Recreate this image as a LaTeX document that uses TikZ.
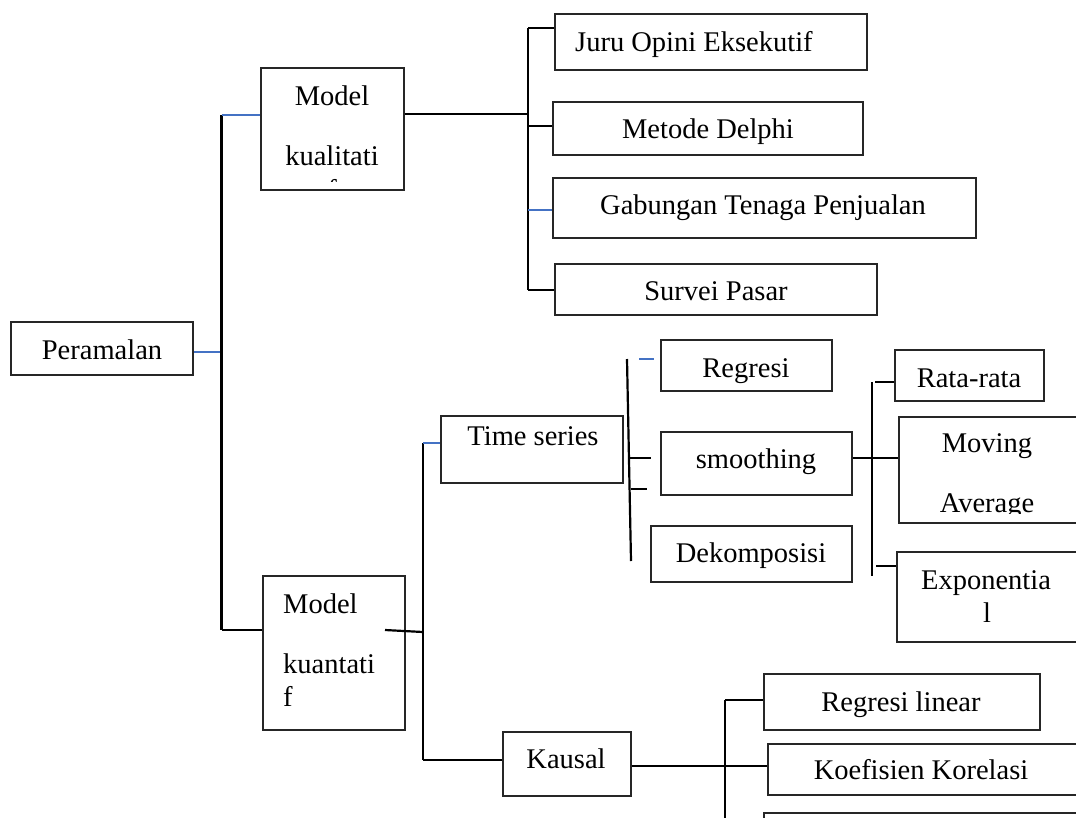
\documentclass[tikz,border=0pt]{standalone}
\usepackage{fontspec}
\setmainfont{Liberation Serif}
\usetikzlibrary{fit}
\definecolor{linkblue}{HTML}{4472C4}
\begin{document}
\begin{tikzpicture}[x=1pt,y=-1pt,
  box/.style={draw=black!85, line width=1.5pt, inner sep=0pt},
  txt/.style={anchor=base, inner sep=0pt, font=\fontsize{28.5}{34}\selectfont},
  ltxt/.style={anchor=base west, inner sep=0pt, font=\fontsize{28.5}{34}\selectfont},
  conn/.style={line width=2.2pt, black},
  bconn/.style={line width=2.2pt, linkblue}]
\useasboundingbox (0,0) rectangle (1076,817);
\clip (0,0) rectangle (1076,817);
% ---- boxes
\node[box, fit={(11,322) (193,375)}] (per) {};
\node[txt] (perT) at (102,359) {Peramalan};
\node[box, fit={(261,68) (404,190)}] (mkl) {};
\node[txt] (mklA) at (332,105) {Model};
\node[txt] (mklB) at (332,165) {kualitati};
\begin{scope}
  \clip (261,68) rectangle (404,181);
  \node[txt] (mklC) at (332,199) {f};
\end{scope}
\node[box, fit={(555,14) (867,70)}] (juru) {};
\node[ltxt] (juruT) at (575,51) {Juru Opini Eksekutif};
\node[box, fit={(553,102) (863,155)}] (del) {};
\node[txt] (delT) at (708,138) {Metode Delphi};
\node[box, fit={(553,178) (976,238)}] (gab) {};
\node[txt] (gabT) at (763,214) {Gabungan Tenaga Penjualan};
\node[box, fit={(555,264) (877,315)}] (sur) {};
\node[txt] (surT) at (716,300) {Survei Pasar};
\node[box, fit={(263,576) (405,730)}] (mkn) {};
\node[ltxt] (mknA) at (283,613) {Model};
\node[ltxt] (mknB) at (283,673) {kuantati};
\node[ltxt] (mknC) at (283,706) {f};
\node[box, fit={(441,416) (623,483)}] (ts) {};
\node[txt] (tsT) at (533,445) {Time series};
\node[box, fit={(661,340) (832,391)}] (reg) {};
\node[txt] (regT) at (746,377) {Regresi};
\node[box, fit={(661,432) (852,495)}] (smo) {};
\node[txt] (smoT) at (756,468) {smoothing};
\node[box, fit={(651,526) (852,582)}] (dek) {};
\node[txt] (dekT) at (751,562) {Dekomposisi};
\node[box, fit={(895,350) (1044,401)}] (rata) {};
\node[txt] (rataT) at (969,387) {Rata-rata};
\node[box, fit={(899,417) (1095,523)}] (mov) {};
\node[txt] (movA) at (987,452) {Moving};
\begin{scope}
  \clip (899,417) rectangle (1076,513);
  \node[txt] (movB) at (987,512) {Average};
\end{scope}
\node[box, fit={(897,552) (1095,642)}] (exp) {};
\node[txt] (expA) at (986,589) {Exponentia};
\node[txt] (expB) at (987,622) {l};
\node[box, fit={(503,732) (631,796)}] (kau) {};
\node[txt] (kauT) at (566,768) {Kausal};
\node[box, fit={(764,674) (1040,730)}] (rl) {};
\node[txt] (rlT) at (901,711) {Regresi linear};
\node[box, fit={(768,744) (1095,795)}] (koef) {};
\node[txt] (koefT) at (921,779) {Koefisien Korelasi};
\node[box, fit={(764,813) (1095,850)}] (third) {};
% ---- connectors: root
\coordinate (a1) at (221.5,352);
\coordinate (t1) at (221.5,115);
\coordinate (t2) at (221.5,630);
\draw[bconn] (per.east |- a1) -- (a1);
\draw[conn] (t1) -- (t2);
\draw[bconn] (t1) -- (t1 -| mkl.west);
\draw[conn] (t2) -- (t2 -| mkn.west);
% ---- kualitatif
\coordinate (u0) at (528,28);
\coordinate (u1) at (528,114);
\coordinate (u2) at (528,126);
\coordinate (u3) at (528,210);
\coordinate (u4) at (528,290);
\draw[conn] (mkl.east |- u1) -- (u1);
\draw[conn] (u0) -- (u4);
\draw[conn] (u0) -- (u0 -| juru.west);
\draw[conn] (u2) -- (u2 -| del.west);
\draw[bconn] (u3) -- (u3 -| gab.west);
\draw[conn] (u4) -- (u4 -| sur.west);
% ---- kuantitatif
\coordinate (v0) at (385,630);
\coordinate (v1) at (423,632);
\coordinate (v2) at (423,443);
\coordinate (v3) at (423,760);
\draw[conn] (v0) -- (v1);
\draw[conn] (v2) -- (v3);
\draw[bconn] (v2) -- (v2 -| ts.west);
\draw[conn] (v3) -- (v3 -| kau.west);
% ---- time series branch
\coordinate (w0) at (627,359);
\coordinate (w1) at (631,561);
\coordinate (w2) at (639,359);
\coordinate (w3) at (654,359);
\coordinate (w4) at (630,458);
\coordinate (w5) at (651,458);
\coordinate (w6) at (630.5,489);
\coordinate (w7) at (647,489);
\draw[conn] (w0) -- (w1);
\draw[bconn] (w2) -- (w3);
\draw[conn] (w4) -- (w5);
\draw[conn] (w6) -- (w7);
% ---- smoothing branch
\coordinate (x0) at (872,382);
\coordinate (x1) at (872,458);
\coordinate (x2) at (872,576);
\coordinate (x3) at (875,382);
\coordinate (x4) at (876,566);
\draw[conn] (smo.east |- x1) -- (x1 -| mov.west);
\draw[conn] (x0) -- (x2);
\draw[conn] (x3) -- (x3 -| rata.west);
\draw[conn] (x4) -- (x4 -| exp.west);
% ---- kausal branch
\coordinate (k0) at (725,700);
\coordinate (k1) at (725,766);
\coordinate (k2) at (725,830);
\draw[conn] (kau.east |- k1) -- (k1 -| koef.west);
\draw[conn] (k0) -- (k2);
\draw[conn] (k0) -- (k0 -| rl.west);
\end{tikzpicture}
\end{document}
